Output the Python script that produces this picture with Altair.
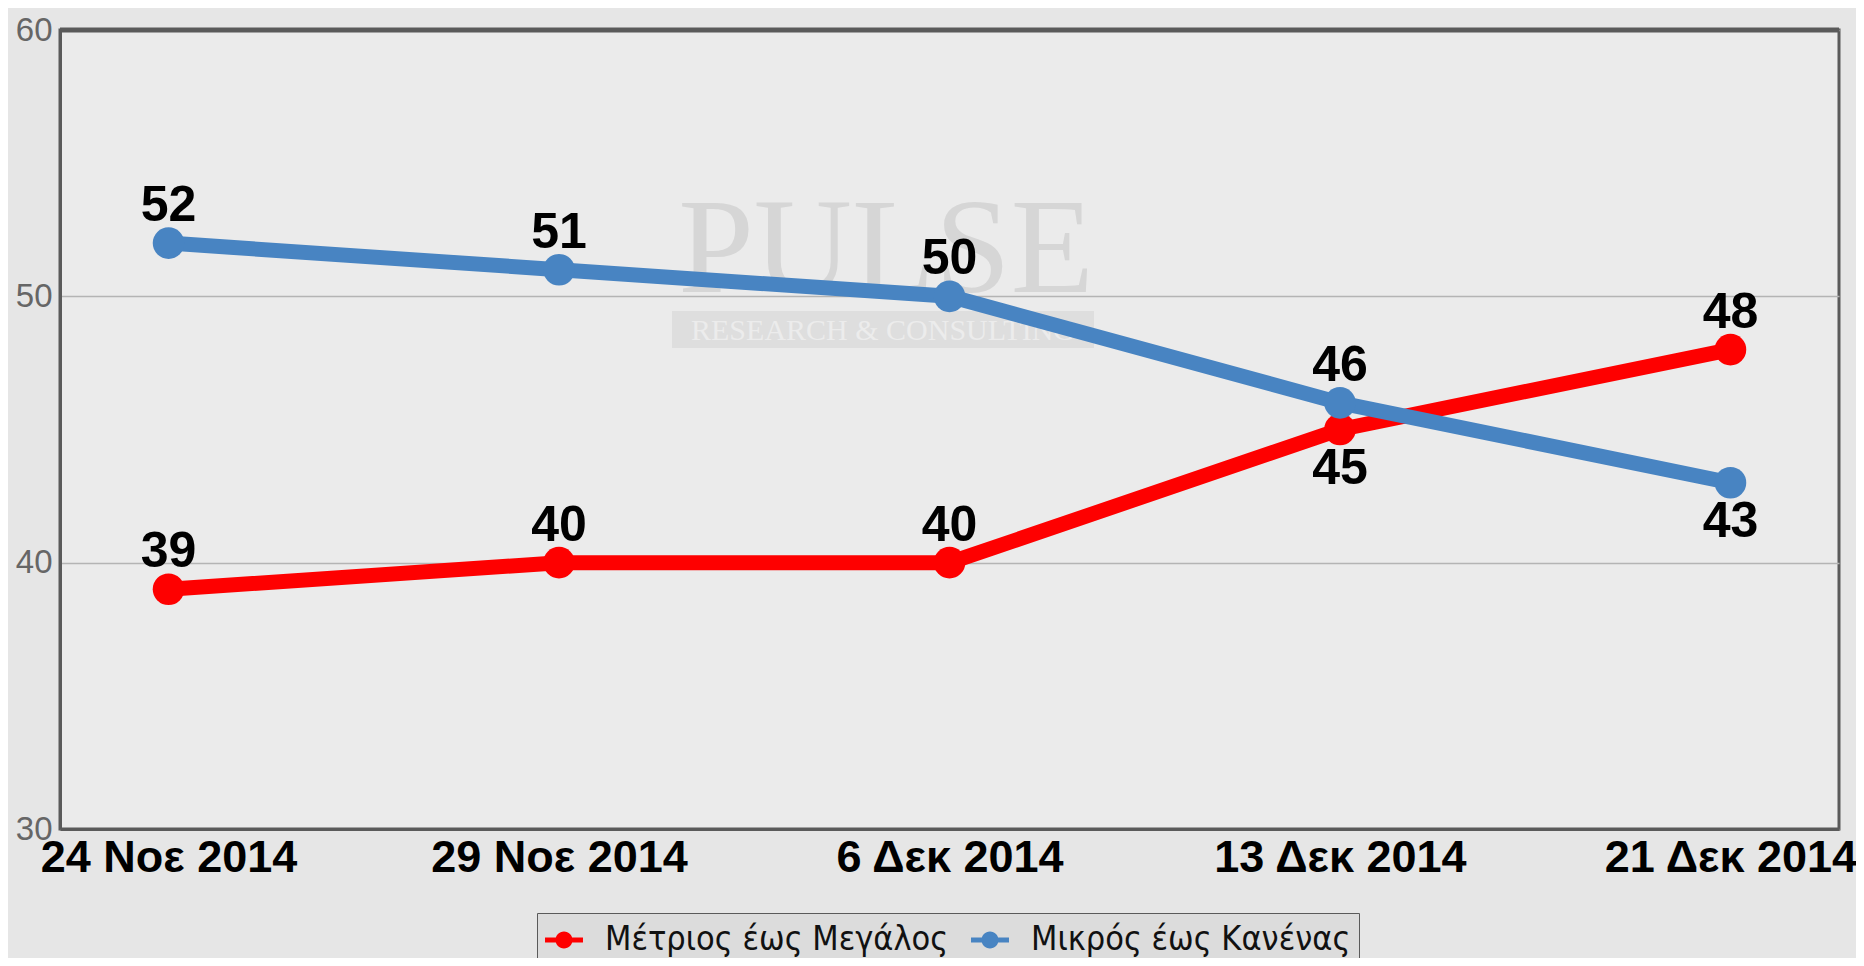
import altair as alt
import pandas as pd

dates = ["24 Νοε 2014", "29 Νοε 2014", "6 Δεκ 2014", "13 Δεκ 2014", "21 Δεκ 2014"]
series_names = ["Μέτριος έως Μεγάλος", "Μικρός έως Κανένας"]
moderate_to_large = [39, 40, 40, 45, 48]
small_to_none = [52, 51, 50, 46, 43]
moderate_label_pos = ["above", "above", "above", "below", "above"]
small_label_pos = ["above", "above", "above", "above", "below"]
series_colors = ["#fe0000", "#4884c2"]
y_ticks = [30, 40, 50, 60]

rows = []
for name, vals, pos in [(series_names[0], moderate_to_large, moderate_label_pos),
                        (series_names[1], small_to_none, small_label_pos)]:
    for d, v, p in zip(dates, vals, pos):
        rows.append({"date": d, "value": v, "series": name, "pos": p})
df = pd.DataFrame(rows)

FONT = "Liberation Sans, Arial, sans-serif"

x_enc = alt.X("date:N", sort=dates, title=None,
              scale=alt.Scale(type="point", padding=0.278),
              axis=alt.Axis(labelAngle=0, labelFontSize=45, labelFontWeight="bold",
                            labelColor="#000000", labelFont=FONT, labelPadding=6,
                            labelLimit=1000, labelOverlap=False,
                            ticks=False, domainColor="#5a5a5a", domainWidth=3,
                            grid=False))
y_enc = alt.Y("value:Q", title=None,
              scale=alt.Scale(domain=[30, 60], nice=False, zero=False),
              axis=alt.Axis(values=y_ticks, labelFontSize=33, labelColor="#666666",
                            labelFont=FONT, labelPadding=8, ticks=False,
                            domainColor="#5a5a5a", domainWidth=3,
                            grid=True, gridColor="#b4b4b4", gridWidth=1.5))
legend = alt.Legend(title=None, orient="none", direction="horizontal",
                    legendX=477, legendY=883,
                    labelFontSize=34, labelFont="DejaVu Sans Condensed, Liberation Sans, sans-serif",
                    labelColor="#111111", labelLimit=1000,
                    symbolType="M-1,-0.13H1V0.13H-1Z M-0.45,0A0.45,0.45 0 1,1 0.45,0A0.45,0.45 0 1,1 -0.45,0Z",
                    symbolSize=1440, symbolStrokeWidth=0,
                    labelOffset=22, columnPadding=22,
                    padding=8, strokeColor="#5a5a5a",
                    fillColor="#dcdcdc", cornerRadius=0)
color_enc = alt.Color("series:N",
                      scale=alt.Scale(domain=series_names, range=series_colors),
                      legend=legend)

base = alt.Chart(df)

# watermark
wm = pd.DataFrame({"t": ["PULSE"]})
wm_rect = alt.Chart(wm).mark_rect(color="#dedede").encode(
    x=alt.value(612), x2=alt.value(1034), y=alt.value(281), y2=alt.value(318))
wm_text = alt.Chart(wm).mark_text(font="Liberation Serif, serif", fontSize=136,
                                  color="#d6d6d6", baseline="alphabetic").encode(
    x=alt.value(826), y=alt.value(262), text="t:N")
wm_sub = alt.Chart(pd.DataFrame({"t": ["RESEARCH & CONSULTING"]})).mark_text(
    font="Liberation Serif, serif", fontSize=30, color="#ececec",
    baseline="middle").encode(x=alt.value(823), y=alt.value(301), text="t:N")

top_border = alt.Chart(wm).mark_rule(color="#5a5a5a", strokeWidth=5).encode(
    x=alt.value(0), x2=alt.value(1779), y=alt.value(0))

layers = []
for i, name in enumerate(series_names):
    sub = base.transform_filter(alt.datum.series == name)
    line = sub.mark_line(strokeWidth=15, strokeCap="round", strokeJoin="round").encode(
        x=x_enc, y=y_enc, color=color_enc)
    pts = sub.mark_point(filled=True, size=1000, opacity=1).encode(
        x=x_enc, y=y_enc, color=color_enc)
    layers += [line, pts]

label_above = base.transform_filter(alt.datum.pos == "above").mark_text(
    fontSize=50, fontWeight="bold", font=FONT, color="#000000",
    baseline="alphabetic", dy=-22).encode(x=x_enc, y=y_enc, text="value:Q")
label_below = base.transform_filter(alt.datum.pos == "below").mark_text(
    fontSize=50, fontWeight="bold", font=FONT, color="#000000",
    baseline="top", dy=14).encode(x=x_enc, y=y_enc, text="value:Q")

chart = alt.layer(wm_rect, wm_text, wm_sub, *layers, label_above, label_below,
                  top_border).properties(
    width=1779, height=799,
    background="#e6e6e6",
    padding={"left": 52, "top": 22, "right": 17, "bottom": 129},
    autosize=alt.AutoSizeParams(type="none"),
).configure_view(fill="#ebebeb", stroke="#5a5a5a", strokeWidth=3)

chart.save("out.html", embed_options={"renderer": "svg", "actions": False})
